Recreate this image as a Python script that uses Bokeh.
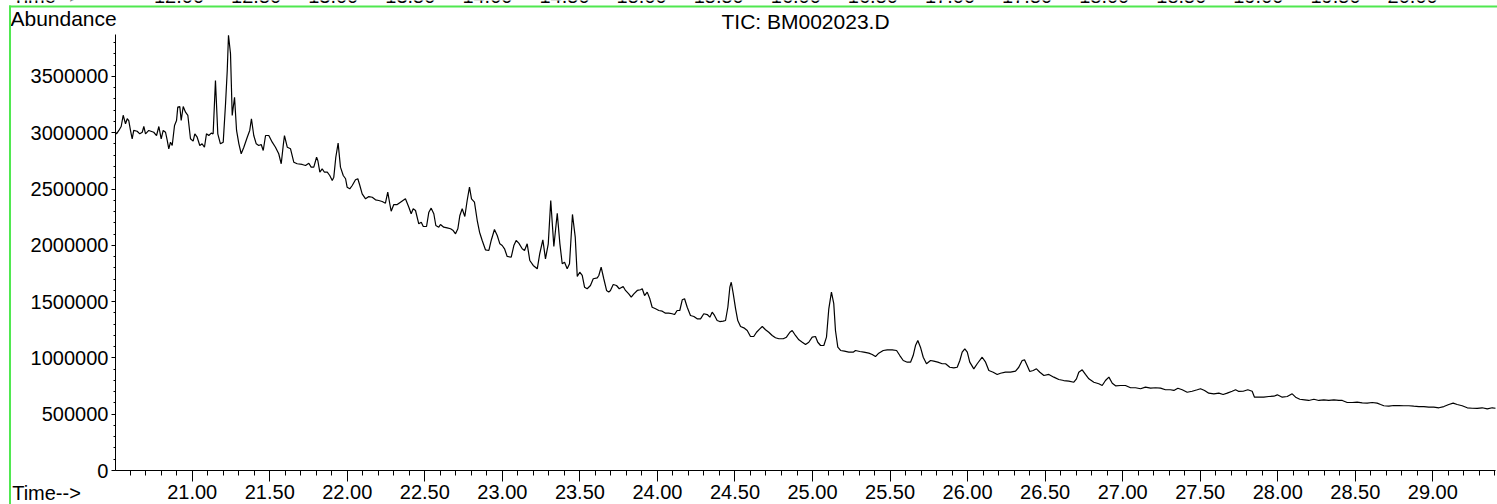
from bokeh.plotting import figure
from bokeh.models import Range1d, FixedTicker, NumeralTickFormatter, Label, BoxAnnotation
from bokeh.core.properties import value
from bokeh.embed import file_html
from bokeh.resources import INLINE

# ---------------- data ----------------
time_min = [
    20.505, 20.512, 20.527, 20.542, 20.555, 20.570, 20.581, 20.591, 20.602, 20.613,
    20.623, 20.645, 20.662, 20.678, 20.688, 20.699, 20.720, 20.752, 20.770, 20.785,
    20.800, 20.813, 20.828, 20.839, 20.849, 20.860, 20.871, 20.886, 20.899, 20.907,
    20.920, 20.929, 20.942, 20.957, 20.972, 20.989, 21.006, 21.017, 21.032, 21.049,
    21.064, 21.079, 21.092, 21.107, 21.123, 21.135, 21.150, 21.165, 21.182, 21.200,
    21.215, 21.226, 21.234, 21.247, 21.258, 21.273, 21.286, 21.301, 21.316, 21.333,
    21.355, 21.371, 21.382, 21.397, 21.413, 21.429, 21.445, 21.458, 21.473, 21.494,
    21.516, 21.537, 21.558, 21.574, 21.587, 21.595, 21.613, 21.634, 21.655, 21.677,
    21.709, 21.731, 21.752, 21.767, 21.784, 21.802, 21.810, 21.823, 21.838, 21.853,
    21.871, 21.887, 21.903, 21.913, 21.926, 21.941, 21.956, 21.974, 21.989, 21.999,
    22.016, 22.032, 22.053, 22.068, 22.081, 22.096, 22.118, 22.139, 22.161, 22.182,
    22.203, 22.225, 22.246, 22.261, 22.274, 22.283, 22.300, 22.322, 22.343,
    22.375, 22.397, 22.412, 22.425, 22.440, 22.461, 22.477, 22.490, 22.511, 22.526,
    22.541, 22.558, 22.571, 22.590, 22.601, 22.622, 22.644, 22.666, 22.683, 22.698,
    22.713, 22.726, 22.741, 22.758, 22.773, 22.788, 22.801, 22.820, 22.838, 22.853,
    22.870, 22.891, 22.913, 22.928, 22.949, 22.967, 22.984, 22.999, 23.014, 23.031,
    23.057, 23.074, 23.089, 23.106, 23.128, 23.143, 23.160, 23.177, 23.199, 23.225,
    23.241, 23.261, 23.278, 23.296, 23.312, 23.332, 23.354, 23.371, 23.386, 23.401,
    23.418, 23.433, 23.452, 23.470, 23.483, 23.499, 23.515, 23.530, 23.547, 23.568,
    23.586, 23.612, 23.622, 23.637, 23.654, 23.672, 23.686, 23.697, 23.715, 23.736,
    23.754, 23.779, 23.794, 23.815, 23.831, 23.848, 23.870, 23.891, 23.902, 23.917,
    23.934, 23.951, 23.966, 23.988, 24.009, 24.031, 24.052, 24.073, 24.095, 24.110,
    24.127, 24.144, 24.160, 24.175, 24.192, 24.213, 24.235, 24.256, 24.278,
    24.299, 24.321, 24.338, 24.353, 24.368, 24.385, 24.402, 24.424, 24.439, 24.454,
    24.467, 24.476, 24.489, 24.504, 24.518, 24.536, 24.557, 24.579, 24.600, 24.621,
    24.639, 24.660, 24.676, 24.697, 24.718, 24.740, 24.761, 24.783, 24.811, 24.832,
    24.854, 24.869, 24.890, 24.912, 24.934, 24.955, 24.976, 24.998, 25.019, 25.034,
    25.052, 25.073, 25.090, 25.105, 25.122, 25.137, 25.148, 25.163, 25.181, 25.206,
    25.234, 25.262, 25.277, 25.305, 25.331, 25.363, 25.385, 25.406, 25.427, 25.456,
    25.482, 25.514, 25.542, 25.563, 25.585, 25.611, 25.632, 25.649, 25.664, 25.679,
    25.696, 25.714, 25.735, 25.761, 25.782, 25.808, 25.836, 25.858, 25.885, 25.911,
    25.933, 25.950, 25.965, 25.982, 25.998, 26.014, 26.040, 26.062, 26.094, 26.116,
    26.137, 26.165, 26.191, 26.212,
    26.244, 26.277, 26.309, 26.330, 26.352, 26.367, 26.384, 26.401, 26.423, 26.444,
    26.466, 26.492, 26.524, 26.556, 26.588, 26.620, 26.653, 26.685, 26.702, 26.717,
    26.739, 26.760, 26.782, 26.814, 26.846, 26.868, 26.889, 26.911, 26.933, 26.954,
    26.986, 27.018, 27.051, 27.083, 27.115, 27.147, 27.180, 27.212, 27.244, 27.276,
    27.308, 27.330, 27.356, 27.384, 27.416, 27.448, 27.481, 27.502, 27.528, 27.555,
    27.588, 27.620, 27.648, 27.674, 27.706, 27.728, 27.749, 27.777, 27.807, 27.835,
    27.850, 27.878, 27.910, 27.942, 27.975, 27.997, 28.029, 28.061, 28.093, 28.115,
    28.142, 28.173, 28.200, 28.233, 28.265, 28.297, 28.329, 28.362, 28.394, 28.416,
    28.448, 28.480, 28.512, 28.545, 28.577, 28.609, 28.641, 28.663, 28.684, 28.716,
    28.748, 28.781, 28.813, 28.845, 28.877, 28.910, 28.942, 28.974, 29.006, 29.039,
    29.071, 29.103, 29.131, 29.157, 29.189, 29.222, 29.254, 29.286, 29.318, 29.351,
    29.383, 29.404,
]

abundance = [
    3005000, 2990000, 3020000, 3055000, 3155000, 3079000, 3124000, 3108000, 3020000, 2946000,
    3020000, 3013000, 2990000, 3004000, 3055000, 2990000, 3020000, 3004000, 2975000, 3055000,
    2946000, 3020000, 3004000, 2931000, 2857000, 2916000, 2886000, 3064000, 3108000, 3227000,
    3233000, 3108000, 3233000, 3182000, 3153000, 2946000, 2925000, 2990000, 2960000, 2886000,
    2901000, 2871000, 2990000, 2975000, 2996000, 2990000, 3464000, 2990000, 2901000, 2916000,
    3257000, 3552000, 3865000, 3701000, 3153000, 3315000, 3020000, 2901000, 2813000, 2871000,
    2960000, 3020000, 3124000, 2975000, 2901000, 2886000, 2895000, 2842000, 2975000, 2975000,
    2916000, 2871000, 2813000, 2724000, 2886000, 2975000, 2871000, 2857000, 2738000, 2724000,
    2718000, 2709000, 2729000, 2694000, 2694000, 2782000, 2753000, 2649000, 2679000, 2649000,
    2649000, 2620000, 2576000, 2605000, 2782000, 2907000, 2694000, 2620000, 2591000, 2516000,
    2502000, 2531000, 2582000, 2591000, 2531000, 2457000, 2413000, 2433000, 2427000, 2404000,
    2398000, 2389000, 2374000, 2472000, 2369000, 2303000, 2362000, 2362000, 2383000,
    2413000, 2338000, 2280000, 2324000, 2309000, 2191000, 2205000, 2167000, 2167000, 2294000,
    2330000, 2280000, 2176000, 2161000, 2185000, 2161000, 2155000, 2147000, 2131000, 2102000,
    2147000, 2265000, 2324000, 2256000, 2398000, 2516000, 2413000, 2383000, 2220000, 2116000,
    2043000, 1960000, 1954000, 2043000, 2140000, 2087000, 2013000, 1998000, 1969000, 1901000,
    1894000, 1998000, 2043000, 2019000, 1969000, 1954000, 2013000, 1865000, 1821000, 1791000,
    1925000, 2049000, 1880000, 2013000, 2398000, 1989000, 2285000, 2013000, 1836000, 1850000,
    1791000, 1836000, 2274000, 2072000, 1723000, 1761000, 1732000, 1628000, 1614000, 1643000,
    1703000, 1711000, 1732000, 1806000, 1703000, 1599000, 1584000, 1599000, 1652000, 1643000,
    1614000, 1634000, 1599000, 1569000, 1539000, 1569000, 1599000, 1605000, 1614000, 1554000,
    1584000, 1525000, 1450000, 1436000, 1421000, 1415000, 1397000, 1397000, 1392000, 1385000,
    1421000, 1421000, 1516000, 1525000, 1450000, 1377000, 1368000, 1347000, 1347000,
    1392000, 1385000, 1362000, 1406000, 1377000, 1332000, 1323000, 1326000, 1332000, 1450000,
    1628000, 1672000, 1569000, 1436000, 1332000, 1279000, 1267000, 1243000, 1190000, 1190000,
    1228000, 1258000, 1279000, 1250000, 1228000, 1199000, 1179000, 1170000, 1170000, 1184000,
    1228000, 1243000, 1199000, 1161000, 1139000, 1119000, 1139000, 1184000, 1190000, 1139000,
    1110000, 1110000, 1184000, 1436000, 1584000, 1481000, 1243000, 1095000, 1066000, 1060000,
    1051000, 1051000, 1066000, 1057000, 1051000, 1042000, 1030000, 1012000, 1042000, 1066000,
    1072000, 1072000, 1066000, 1021000, 977000, 962000, 962000, 1021000, 1110000, 1155000,
    1095000, 1006000, 948000, 977000, 971000, 962000, 948000, 948000, 917000, 912000,
    917000, 977000, 1051000, 1081000, 1051000, 962000, 903000, 948000, 1006000, 962000,
    888000, 873000, 853000, 864000,
    873000, 873000, 882000, 917000, 977000, 983000, 933000, 879000, 888000, 903000,
    873000, 844000, 853000, 829000, 808000, 799000, 793000, 784000, 814000, 873000,
    894000, 853000, 814000, 784000, 770000, 755000, 799000, 829000, 775000, 752000,
    755000, 755000, 735000, 735000, 726000, 740000, 731000, 735000, 731000, 717000,
    717000, 711000, 731000, 717000, 695000, 704000, 717000, 726000, 711000, 687000,
    681000, 687000, 675000, 687000, 704000, 717000, 702000, 704000, 717000, 704000,
    651000, 651000, 651000, 657000, 660000, 672000, 651000, 657000, 681000, 651000,
    633000, 628000, 622000, 633000, 622000, 628000, 622000, 628000, 622000, 622000,
    604000, 604000, 607000, 601000, 598000, 604000, 598000, 586000, 575000, 571000,
    577000, 577000, 575000, 575000, 571000, 568000, 568000, 562000, 562000, 557000,
    568000, 586000, 598000, 586000, 575000, 557000, 553000, 551000, 557000, 548000,
    557000, 553000,
]

x_major_ticks = [21.0, 21.5, 22.0, 22.5, 23.0, 23.5, 24.0, 24.5, 25.0,
                 25.5, 26.0, 26.5, 27.0, 27.5, 28.0, 28.5, 29.0]
x_minor_ticks = [round(20.6 + 0.1 * i, 1) for i in range(89)]
y_major_ticks = [0, 500000, 1000000, 1500000, 2000000, 2500000, 3000000, 3500000]
y_minor_ticks = [100000 * i for i in range(39)]

# tick labels of the previous (cut-off) chart visible at the very top
prev_ticks = [12.0, 12.5, 13.0, 13.5, 14.0, 14.5, 15.0, 15.5, 16.0,
              16.5, 17.0, 17.5, 18.0, 18.5, 19.0, 19.5, 20.0]
prev_labels = ["%.2f" % t for t in prev_ticks]

title_text = "TIC: BM002023.D"
y_title = "Abundance"
x_title = "Time-->"

FONT = "Liberation Sans"

# ---------------- figure (frame covers whole canvas, axes fixed inside) ----------------
p = figure(
    width=1497, height=504,
    x_range=Range1d(19.76386, 29.41695), y_range=Range1d(-301950, 4174070),
    output_backend="svg", toolbar_location=None, min_border=0,
    outline_line_color=None, background_fill_color="white", border_fill_color="white",
)
p.extra_x_ranges = {"prev": Range1d(10.8424, 20.5506)}
p.grid.visible = False

p.line(time_min, abundance, line_color="black", line_width=1.2)

xa = p.xaxis[0]
xa.fixed_location = 0
xa.bounds = (20.505, 29.404)
xa.ticker = FixedTicker(ticks=x_major_ticks, minor_ticks=x_minor_ticks)
xa.formatter = NumeralTickFormatter(format="0.00")
xa.major_tick_out = 11
xa.major_tick_in = 0
xa.minor_tick_out = 5
xa.minor_tick_in = 0
xa.major_label_standoff = 3
xa.major_label_text_font = FONT
xa.major_label_text_font_size = "20px"
xa.major_label_text_color = "black"
xa.axis_line_color = "black"
xa.major_tick_line_color = "black"
xa.minor_tick_line_color = "black"

ya = p.yaxis[0]
ya.fixed_location = 20.505
ya.bounds = (0, 3872000)
ya.ticker = FixedTicker(ticks=y_major_ticks, minor_ticks=y_minor_ticks)
ya.formatter = NumeralTickFormatter(format="0")
ya.major_tick_out = 4
ya.major_tick_in = 0
ya.minor_tick_out = 2
ya.minor_tick_in = 0
ya.major_label_standoff = 3
ya.major_label_text_font = FONT
ya.major_label_text_font_size = "20px"
ya.major_label_text_color = "black"
ya.axis_line_color = "black"
ya.major_tick_line_color = "black"
ya.minor_tick_line_color = "black"

# texts
p.add_layout(Label(x=19.828, y=4014200, text=y_title, text_font=FONT,
                   text_font_size="21px", text_align="left", text_baseline="alphabetic",
                   text_color="black"))
p.add_layout(Label(x=24.955, y=3987600, text=title_text, text_font=FONT,
                   text_font_size="21px", text_align="center", text_baseline="alphabetic",
                   text_color="black"))
p.add_layout(Label(x=19.839, y=-195400, text=x_title, text_font=FONT,
                   text_font_size="20px", text_align="left", text_baseline="alphabetic",
                   text_color="black"))

# cut-off bottom row of the chart above (only its lower edge is visible)
p.text(x=prev_ticks, y=[4143000] * len(prev_ticks), text=prev_labels, x_range_name="prev",
       y_offset=-8,
       text_font=value(FONT), text_font_size=value("20px"), text_align="center",
       text_baseline="alphabetic", text_color="black")
p.add_layout(Label(x=19.839, y=4214000, text=x_title, text_font=FONT,
                   text_font_size="20px", text_align="left", text_baseline="alphabetic",
                   text_color="black"))

# green selection border (left and top)
GREEN = "#50E850"
p.add_layout(BoxAnnotation(left=19.8187, right=19.8316, bottom=-320000, top=4129700,
                           fill_color=GREEN, fill_alpha=1.0, line_color=None))
p.add_layout(BoxAnnotation(left=19.8187, right=29.45, bottom=4112000, top=4129700,
                           fill_color=GREEN, fill_alpha=1.0, line_color=None))

open("out.html", "w").write(file_html(p, INLINE))
